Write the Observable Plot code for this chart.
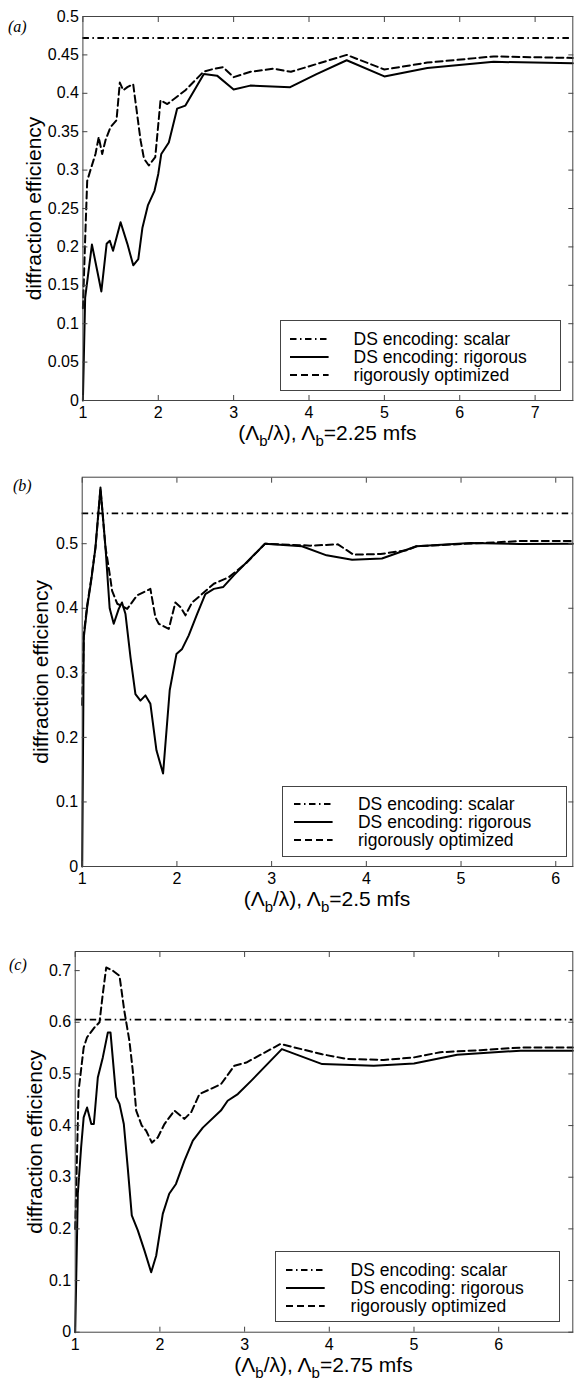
<!DOCTYPE html>
<html><head><meta charset="utf-8">
<script src="https://cdn.jsdelivr.net/npm/d3@7"></script>
<script src="https://cdn.jsdelivr.net/npm/@observablehq/plot@0.6"></script>
<style>
body{margin:0;background:#fff;width:577px;height:1383px;position:relative;overflow:hidden;font-family:"Liberation Sans",Arial,sans-serif;color:#000}
.panel{position:absolute;left:0}
.tag{position:absolute;font-family:"Liberation Serif","DejaVu Serif",serif;font-style:italic;font-size:16px;line-height:1}
.legend{position:absolute;border:1px solid #444;background:#fff;box-sizing:border-box}
.legend .row{position:absolute;font-size:17.5px;line-height:16px;height:16px;white-space:nowrap}
.legend svg{position:absolute}
</style></head><body>
<script>
// ---------- data ----------
const aRigX = [1.00,1.03,1.12,1.19,1.245,1.315,1.357,1.40,1.50,1.59,1.668,1.735,1.79,1.862,1.95,2.0,2.04,2.14,2.25,2.36,2.605,2.78,3.0,3.22,3.75,4.1,4.5,5.0,5.57,6.45,7.5];
const aRigY = [0,0.134,0.203,0.169,0.142,0.204,0.208,0.195,0.232,0.204,0.176,0.184,0.225,0.254,0.273,0.295,0.321,0.336,0.380,0.384,0.425,0.423,0.405,0.41,0.408,0.425,0.443,0.422,0.433,0.441,0.439];
const aOptX = [1.0,1.03,1.057,1.10,1.167,1.21,1.256,1.30,1.366,1.446,1.49,1.535,1.59,1.667,1.765,1.81,1.875,1.96,2.03,2.12,2.36,2.6,2.74,2.86,3.0,3.225,3.53,3.76,4.5,5.0,5.57,6.45,7.5];
const aOptY = [0.12,0.21,0.286,0.30,0.321,0.343,0.321,0.339,0.356,0.365,0.414,0.404,0.408,0.412,0.339,0.315,0.306,0.317,0.391,0.386,0.404,0.428,0.432,0.434,0.421,0.428,0.432,0.428,0.450,0.431,0.440,0.448,0.446];
const aScalar = 0.472;

const bRigX = [1.0,1.017,1.053,1.095,1.14,1.193,1.246,1.29,1.333,1.386,1.42,1.457,1.51,1.562,1.615,1.668,1.72,1.784,1.854,1.924,1.995,2.055,2.125,2.213,2.30,2.39,2.49,2.6,2.93,3.32,3.58,3.85,4.165,4.53,5.1,5.62,6.18];
const bRigY = [0,0.355,0.402,0.443,0.494,0.587,0.494,0.40,0.376,0.399,0.409,0.391,0.324,0.267,0.257,0.265,0.252,0.18,0.144,0.273,0.329,0.337,0.358,0.391,0.422,0.43,0.433,0.451,0.50,0.496,0.482,0.475,0.477,0.496,0.501,0.4997,0.50];
const bOptX = [1.0,1.017,1.053,1.095,1.14,1.193,1.246,1.28,1.316,1.37,1.475,1.58,1.72,1.773,1.808,1.914,1.984,2.037,2.09,2.16,2.25,2.39,2.547,2.74,2.93,3.41,3.7,3.865,4.15,4.43,4.53,5.62,6.18];
const bOptY = [0.25,0.36,0.405,0.445,0.494,0.585,0.494,0.463,0.427,0.407,0.399,0.42,0.43,0.386,0.376,0.368,0.409,0.402,0.389,0.409,0.42,0.438,0.448,0.471,0.50,0.497,0.499,0.483,0.484,0.49,0.496,0.504,0.504];
const bScalar = 0.547;

const cRigX = [1.0,1.031,1.07,1.10,1.14,1.19,1.22,1.267,1.326,1.385,1.417,1.484,1.523,1.574,1.62,1.668,1.739,1.818,1.897,1.956,2.034,2.11,2.19,2.29,2.389,2.507,2.72,2.80,2.92,3.08,3.44,3.916,4.525,5.0,5.51,6.257,6.875];
const cRigY = [0,0.268,0.358,0.416,0.435,0.403,0.403,0.493,0.532,0.58,0.58,0.455,0.442,0.403,0.319,0.226,0.197,0.158,0.116,0.148,0.229,0.268,0.287,0.332,0.371,0.396,0.429,0.448,0.461,0.487,0.548,0.519,0.516,0.52,0.537,0.545,0.545];
const cOptX = [1.0,1.04,1.10,1.14,1.228,1.287,1.326,1.366,1.444,1.523,1.58,1.64,1.68,1.72,1.786,1.838,1.905,1.975,2.054,2.172,2.29,2.37,2.467,2.72,2.88,3.02,3.424,3.916,4.21,4.643,5.0,5.31,5.785,6.257,6.875];
const cOptY = [0.2,0.467,0.551,0.571,0.59,0.60,0.655,0.706,0.70,0.69,0.622,0.564,0.506,0.429,0.40,0.39,0.367,0.377,0.403,0.429,0.413,0.426,0.461,0.48,0.516,0.522,0.558,0.538,0.529,0.527,0.532,0.542,0.546,0.551,0.551];
const cScalar = 0.605;

const aXTicks = [1,2,3,4,5,6,7];
const aYTicks = [0,0.05,0.1,0.15,0.2,0.25,0.3,0.35,0.4,0.45,0.5];
const bXTicks = [1,2,3,4,5,6];
const bYTicks = [0,0.1,0.2,0.3,0.4,0.5];
const cXTicks = [1,2,3,4,5,6];
const cYTicks = [0,0.1,0.2,0.3,0.4,0.5,0.6,0.7];

const legendLabels = ["DS encoding: scalar","DS encoding: rigorous","rigorously optimized"];
const yLabel = "diffraction efficiency";
const mfsValues = ["2.25","2.5","2.75"];
const tags = ["(a)","(b)","(c)"];

// ---------- styles / layout ----------
const DASHDOT = "6.5,3.5,1.5,3.5";
const DASH = "7,4";
const FONT = "'Liberation Sans', Arial, sans-serif";

const panels = [
  {top:0, height:460, mt:16, ml:82.4, mr:4.7, mb:60, xd:[1,7.5], yd:[0,0.5],
   rx:aRigX, ry:aRigY, ox:aOptX, oy:aOptY, sc:aScalar, xt:aXTicks, yt:aYTicks, ydx:-49,
   tag:{x:8,y:19}, leg:{l:279.7,t:320,r:561.3,b:390.7, rows:[337.5,355.5,373.5], lx0:289, lx1:327.6, tx:352.6}},
  {top:460, height:475, mt:16.7, ml:81.7, mr:4.7, mb:69, xd:[1,6.18], yd:[0,0.603],
   rx:bRigX, ry:bRigY, ox:bOptX, oy:bOptY, sc:bScalar, xt:bXTicks, yt:bYTicks, ydx:-40.5,
   tag:{x:13,y:478}, leg:{l:282.3,t:786,r:567.2,b:856.7, rows:[802.5,820.5,838.5], lx0:292.6, lx1:331.2, tx:357}},
  {top:935, height:448, mt:16, ml:74.7, mr:4.7, mb:51.3, xd:[1,6.875], yd:[0,0.737],
   rx:cRigX, ry:cRigY, ox:cOptX, oy:cOptY, sc:cScalar, xt:cXTicks, yt:cYTicks, ydx:-40,
   tag:{x:9,y:957}, leg:{l:275.3,t:1251,r:560.5,b:1322, rows:[1268.5,1286.5,1304.5], lx0:285.2, lx1:323.9, tx:349.6}}
];

const fmt = d3.format("~g");
const noText = () => "";

panels.forEach((p, i) => {
  const rig = p.rx.map((x, k) => ({x, y: p.ry[k]}));
  const opt = p.ox.map((x, k) => ({x, y: p.oy[k]}));
  const plot = Plot.plot({
    width: 577, height: p.height,
    marginTop: p.mt, marginLeft: p.ml, marginRight: p.mr, marginBottom: p.mb,
    x: {domain: p.xd, label: null},
    y: {domain: p.yd, label: null},
    style: {fontFamily: FONT, fontSize: "16px", background: "white", color: "black", overflow: "visible"},
    marks: [
      Plot.ruleY([p.sc], {stroke: "black", strokeWidth: 1.8, strokeDasharray: DASHDOT}),
      Plot.line(rig, {x: "x", y: "y", stroke: "black", strokeWidth: 2}),
      Plot.line(opt, {x: "x", y: "y", stroke: "black", strokeWidth: 2, strokeDasharray: DASH}),
      Plot.frame({stroke: "#444", strokeWidth: 1}),
      Plot.axisX(p.xt, {anchor: "bottom", tickSize: 0, tickPadding: 6, fontSize: 16, tickFormat: fmt, label: null}),
      Plot.axisY(p.yt, {anchor: "left", tickSize: 0, tickPadding: 4, fontSize: 16, tickFormat: fmt, label: null}),
      Plot.axisX(p.xt, {anchor: "bottom", tickSize: 5, dy: -5, tickFormat: noText, label: null, stroke: "#444"}),
      Plot.axisX(p.xt, {anchor: "top", tickSize: 5, dy: 5, tickFormat: noText, label: null, stroke: "#444"}),
      Plot.axisY(p.yt, {anchor: "left", tickSize: 5, dx: 5, tickFormat: noText, label: null, stroke: "#444"}),
      Plot.axisY(p.yt, {anchor: "right", tickSize: 5, dx: -5, tickFormat: noText, label: null, stroke: "#444"}),
      Plot.text([yLabel], {frameAnchor: "left", rotate: -90, dx: p.ydx, fontSize: 21, lineAnchor: "middle", textAnchor: "middle", fill: "black"})
    ]
  });
  const div = document.createElement("div");
  div.className = "panel";
  div.style.top = p.top + "px";
  div.appendChild(plot);
  document.body.appendChild(div);

  // x-axis label with subscripts
  const svg = d3.select(plot);
  const cx = p.ml + (577 - p.ml - p.mr) / 2;
  const ay = p.height - p.mb;
  const t = svg.append("text").attr("x", cx).attr("y", ay + 40)
    .attr("text-anchor", "middle").attr("font-size", 21).attr("fill", "black")
    .attr("font-family", FONT);
  t.append("tspan").text("(\u039B");
  t.append("tspan").attr("font-size", 15).attr("dy", 6).text("b");
  t.append("tspan").attr("dy", -6).text("/\u03BB), \u039B");
  t.append("tspan").attr("font-size", 15).attr("dy", 6).text("b");
  t.append("tspan").attr("dy", -6).text("=" + mfsValues[i] + " mfs");

  // panel tag
  const tg = document.createElement("div");
  tg.className = "tag";
  tg.style.left = p.tag.x + "px";
  tg.style.top = p.tag.y + "px";
  tg.textContent = tags[i];
  document.body.appendChild(tg);

  // legend
  const L = p.leg;
  const lg = document.createElement("div");
  lg.className = "legend";
  lg.style.left = L.l + "px"; lg.style.top = L.t + "px";
  lg.style.width = (L.r - L.l) + "px"; lg.style.height = (L.b - L.t) + "px";
  const dashes = [DASHDOT, null, DASH];
  legendLabels.forEach((lab, k) => {
    const cy = L.rows[k] - L.t;
    const s = d3.create("svg").attr("width", L.lx1 - L.lx0 + 2).attr("height", 6)
      .style("left", (L.lx0 - L.l - 1) + "px").style("top", (cy - 3) + "px");
    const ln = s.append("line").attr("x1", 1).attr("x2", L.lx1 - L.lx0 + 1).attr("y1", 3).attr("y2", 3)
      .attr("stroke", "black").attr("stroke-width", k === 0 ? 1.8 : 2);
    if (dashes[k]) ln.attr("stroke-dasharray", dashes[k]);
    lg.appendChild(s.node());
    const r = document.createElement("div");
    r.className = "row";
    r.style.left = (L.tx - L.l) + "px";
    r.style.top = (cy - 8) + "px";
    r.textContent = lab;
    lg.appendChild(r);
  });
  document.body.appendChild(lg);
});
</script>
</body></html>
